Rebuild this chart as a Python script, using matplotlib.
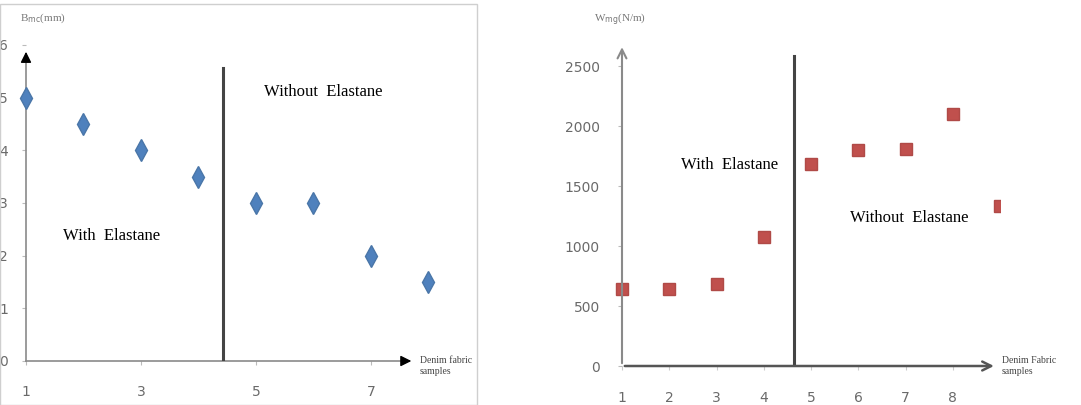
import matplotlib
matplotlib.use("Agg")
import matplotlib.pyplot as plt
from matplotlib.patches import Rectangle

# left chart: B_mc (mm) per denim sample
samples_left = [1, 2, 3, 4, 5, 6, 7, 8]
bmc_mm = [5.0, 4.5, 4.0, 3.5, 3.0, 3.0, 2.0, 1.5]
left_yticks = [0, 1, 2, 3, 4, 5, 6]
left_xticks = [1, 3, 5, 7]

# right chart: W_mg (N/m) per denim sample (9th one is cut at the edge)
samples_right = [1, 2, 3, 4, 5, 6, 7, 8, 9]
wmg = [640, 640, 680, 1075, 1680, 1800, 1805, 2100, 1330]
right_yticks = [0, 500, 1000, 1500, 2000, 2500]
right_xticks = [1, 2, 3, 4, 5, 6, 7, 8]

W, H = 1081, 405
fig = plt.figure(figsize=(W / 100, H / 100), dpi=100)
fig.patch.set_facecolor("white")


def px_axes(x0, x1, y_top, y_bot):
    "axes placed by pixel box (y measured from top)"
    return fig.add_axes([x0 / W, 1 - y_bot / H, (x1 - x0) / W, (y_bot - y_top) / H])


def strip(ax):
    for s in ax.spines.values():
        s.set_visible(False)
    ax.set_facecolor("none")


serif = "Liberation Serif"
tick_col = "#6a6a6a"

# ---------- left panel ----------
# frame around the left picture
fig.patches.append(Rectangle((0, 0), 477 / W, 1 - 4 / H, transform=fig.transFigure,
                             fill=False, edgecolor="#cfcfcf", lw=1))

ax1 = px_axes(26, 478, 40, 361)
strip(ax1)
ax1.set_xlim(1, 1 + (478 - 26) / 57.5)
ax1.set_ylim(0, (361 - 40) / 52.7)

ax1.plot([1, 7.62], [0, 0], color="#8a8a8a", lw=1.2, clip_on=False)
ax1.annotate("", xy=(7.75, 0), xytext=(7.55, 0),
             arrowprops=dict(arrowstyle="-|>", color="black", mutation_scale=16, lw=1),
             annotation_clip=False)
ax1.plot([1, 1], [0, 5.75], color="#8a8a8a", lw=1.2, clip_on=False)
ax1.annotate("", xy=(1, 5.92), xytext=(1, 5.7),
             arrowprops=dict(arrowstyle="-|>", color="black", mutation_scale=16, lw=1),
             annotation_clip=False)

ax1.plot([4.43, 4.43], [0, 5.56], color="#444444", lw=2.2)
ax1.plot(samples_left, bmc_mm, linestyle="none", marker="d", markersize=11,
         color="#4F81BD", markeredgecolor="#4a76a8", clip_on=False)

ax1.set_xticks(left_xticks)
ax1.set_yticks(left_yticks)
ax1.tick_params(axis="x", length=3, pad=14, colors="#bbbbbb", labelcolor=tick_col, labelsize=10)
ax1.tick_params(axis="y", length=3, pad=10, colors="#bbbbbb", labelcolor=tick_col, labelsize=10)

ax1.text(6.17, 5.1, "Without  Elastane", family=serif, fontsize=12, ha="center", va="center")
ax1.text(2.48, 2.37, "With  Elastane", family=serif, fontsize=12, ha="center", va="center")
fig.text(420 / W, 1 - 366 / H, "Denim fabric\nsamples", family=serif, fontsize=7,
         color="#444444", ha="left", va="center", linespacing=1.4)
fig.text(20 / W, 1 - 18 / H, r"B$_\mathrm{mc}$(mm)", family=serif, fontsize=8,
         color="#777777", ha="left", va="center")

# ---------- right panel ----------
ax2 = px_axes(622, 1000, 40, 366)
strip(ax2)
ax2.set_xlim(1, 9)
ax2.set_ylim(0, (366 - 40) / 0.12)

ax2.annotate("", xy=(8.93, 0), xytext=(1, 0),
             arrowprops=dict(arrowstyle="->", color="#555555", lw=1.8, mutation_scale=16),
             annotation_clip=False)
ax2.annotate("", xy=(1, 2680), xytext=(1, 0),
             arrowprops=dict(arrowstyle="->", color="#8a8a8a", lw=1.5, mutation_scale=16),
             annotation_clip=False)

ax2.plot([4.64, 4.64], [0, 2583], color="#444444", lw=2.2)
ax2.plot(samples_right[:8], wmg[:8], linestyle="none", marker="s", markersize=8,
         color="#C0504D", markeredgecolor="#b04a47", clip_on=False)
ax2.plot(samples_right[8:], wmg[8:], linestyle="none", marker="s", markersize=8,
         color="#C0504D", markeredgecolor="#b04a47")

ax2.set_xticks(right_xticks)
ax2.set_yticks(right_yticks)
ax2.tick_params(axis="x", length=3, pad=15, colors="#cccccc", labelcolor=tick_col, labelsize=10)
ax2.tick_params(axis="y", length=3, pad=13, colors="#bbbbbb", labelcolor=tick_col, labelsize=10)

ax2.text(3.28, 1675, "With  Elastane", family=serif, fontsize=12, ha="center", va="center",
         bbox=dict(facecolor="white", edgecolor="none", pad=6))
ax2.text(7.07, 1233, "Without  Elastane", family=serif, fontsize=12, ha="center", va="center")
fig.text(1002 / W, 1 - 366 / H, "Denim Fabric\nsamples", family=serif, fontsize=7,
         color="#444444", ha="left", va="center", linespacing=1.4)
fig.text(594 / W, 1 - 20 / H, r"W$_\mathrm{mg}$(N/m)", family=serif, fontsize=8,
         color="#777777", ha="left", va="center")

fig.savefig("out.png", dpi=100, facecolor="white")
